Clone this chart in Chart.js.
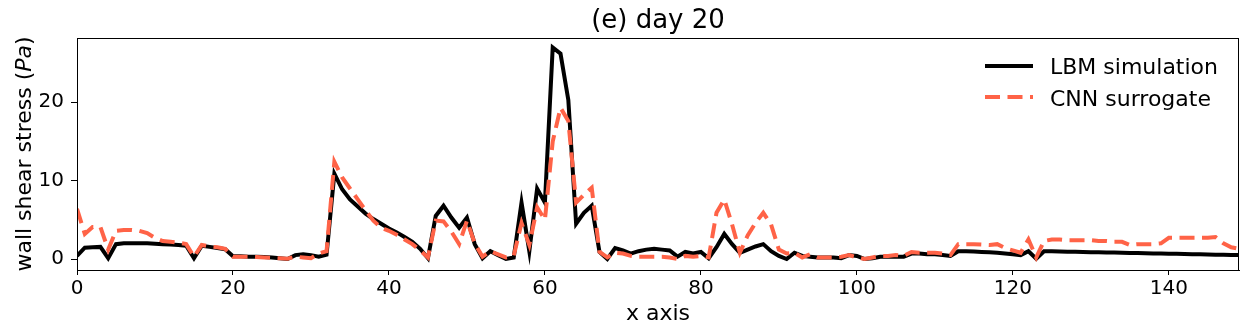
<!DOCTYPE html>
<html>
<head>
<meta charset="utf-8">
<script src="https://cdn.jsdelivr.net/npm/chart.js@4/dist/chart.umd.min.js"></script>
<style>
  html, body { margin: 0; padding: 0; background: #fff; }
  #wrap { width: 1249px; height: 334px; }
</style>
</head>
<body>
<div id="wrap"><canvas id="chart" width="1249" height="334"></canvas></div>
<script>
// wall shear stress along x, LBM reference
const lbm = [
  0.4, 1.45, 1.5, 1.55, 0.1, 1.9, 2.0, 2.0, 2.0, 2.0,
  1.95, 1.9, 1.85, 1.8, 1.7, 0.1, 1.7, 1.55, 1.4, 1.25,
  0.35, 0.35, 0.3, 0.3, 0.25, 0.2, 0.1, 0.0, 0.5, 0.6,
  0.5, 0.3, 0.55, 10.9, 8.9, 7.6, 6.7, 5.8, 5.1, 4.5,
  3.9, 3.4, 2.8, 2.2, 1.3, 0.1, 5.5, 6.8, 5.3, 4.0,
  5.3, 1.9, 0.1, 1.0, 0.5, 0.0, 0.2, 7.2, 1.0, 9.0,
  7.2, 27.0, 26.2, 20.3, 4.5, 5.9, 6.8, 0.9, 0.0, 1.4,
  1.1, 0.7, 1.0, 1.2, 1.3, 1.2, 1.1, 0.3, 0.9, 0.7,
  0.9, 0.1, 1.5, 3.2, 1.9, 0.8, 1.2, 1.6, 1.9, 1.0,
  0.4, 0.0, 0.8, 0.4, 0.3, 0.2, 0.2, 0.2, 0.1, 0.5,
  0.4, 0.0, 0.1, 0.3, 0.3, 0.3, 0.3, 0.7, 0.7, 0.6,
  0.6, 0.5, 0.4, 1.0, 1.0, 0.95, 0.9, 0.85, 0.8, 0.7,
  0.6, 0.5, 1.0, 0.05, 1.0, 0.98, 0.96, 0.94, 0.92, 0.9,
  0.88, 0.86, 0.84, 0.82, 0.8, 0.78, 0.76, 0.74, 0.72, 0.7,
  0.68, 0.66, 0.64, 0.62, 0.6, 0.58, 0.56, 0.54, 0.52, 0.5
];
// CNN prediction
const cnn = [
  6.4, 3.2, 4.1, 4.1, 1.2, 3.6, 3.7, 3.7, 3.6, 3.3,
  2.7, 2.3, 2.2, 2.1, 1.9, 0.3, 1.8, 1.6, 1.5, 1.3,
  0.3, 0.3, 0.3, 0.25, 0.2, 0.15, 0.1, 0.05, 0.3, 0.2,
  0.1, 0.7, 1.0, 12.4, 10.4, 9.0, 7.6, 6.2, 4.9, 4.0,
  3.6, 3.1, 2.5, 1.9, 1.1, 0.2, 4.9, 4.8, 3.5, 1.9,
  4.9, 2.0, 0.3, 1.0, 0.6, 0.2, 0.4, 4.6, 1.8, 6.6,
  5.0, 15.0, 19.3, 17.6, 7.2, 8.2, 9.1, 0.9, 0.2, 0.8,
  0.7, 0.4, 0.3, 0.3, 0.3, 0.3, 0.2, 0.0, 0.4, 0.3,
  0.4, 0.2, 5.9, 7.6, 4.4, 0.8, 3.0, 4.6, 5.9, 4.4,
  1.2, 0.7, 0.8, 0.2, 0.6, 0.2, 0.2, 0.2, 0.3, 0.5,
  0.2, 0.0, 0.2, 0.4, 0.4, 0.5, 0.4, 0.9, 0.8, 0.8,
  0.8, 0.7, 0.5, 1.9, 1.9, 1.9, 1.85, 1.8, 1.9, 1.4,
  1.1, 0.8, 2.5, 0.2, 2.3, 2.5, 2.5, 2.4, 2.4, 2.4,
  2.4, 2.3, 2.3, 2.2, 2.2, 1.8, 1.9, 1.9, 1.9, 2.0,
  2.7, 2.7, 2.7, 2.7, 2.7, 2.7, 2.8, 2.0, 1.5, 1.3
];
const xTicks = [0, 20, 40, 60, 80, 100, 120, 140];
const yTicks = [0, 10, 20];
const seriesNames = ['LBM simulation', 'CNN surrogate'];

const FONT = 'DejaVu Sans';
const RED = '#ff6347';
const DASH = [15, 7.5];

const toPoints = (arr) => arr.map((v, i) => ({ x: i, y: v }));

// title, axis labels, frame and legend drawn on the canvas
const decorations = {
  id: 'decorations',
  afterDraw(chart) {
    const { ctx, chartArea: a } = chart;
    const cx = (a.left + a.right) / 2;
    ctx.save();
    ctx.strokeStyle = '#000';
    ctx.lineWidth = 1;
    ctx.strokeRect(a.left + 0.5, a.top + 0.5, a.right - a.left - 1, a.bottom - a.top);

    ctx.fillStyle = '#000';
    ctx.textAlign = 'center';
    ctx.textBaseline = 'middle';
    ctx.font = `26px "${FONT}"`;
    ctx.fillText('(e) day 20', cx, 21);

    ctx.textBaseline = 'alphabetic';
    ctx.font = `22px "${FONT}"`;
    ctx.fillText('x axis', cx, 320);

    // y label with italic unit
    const parts = [
      ['wall shear stress (', `22px "${FONT}"`],
      ['Pa', `italic 22px "${FONT}"`],
      [')', `22px "${FONT}"`]
    ];
    let total = 0;
    parts.forEach(([t, f]) => { ctx.font = f; total += ctx.measureText(t).width; });
    ctx.translate(31, (a.top + a.bottom) / 2);
    ctx.rotate(-Math.PI / 2);
    ctx.textAlign = 'left';
    let px = -total / 2;
    parts.forEach(([t, f]) => { ctx.font = f; ctx.fillText(t, px, 0); px += ctx.measureText(t).width; });
    ctx.restore();

    // legend
    ctx.save();
    ctx.lineWidth = 4;
    ctx.strokeStyle = '#000';
    ctx.beginPath(); ctx.moveTo(985, 66); ctx.lineTo(1033, 66); ctx.stroke();
    ctx.strokeStyle = RED;
    ctx.setLineDash(DASH);
    ctx.beginPath(); ctx.moveTo(985, 97); ctx.lineTo(1033, 97); ctx.stroke();
    ctx.setLineDash([]);
    ctx.fillStyle = '#000';
    ctx.font = `22px "${FONT}"`;
    ctx.textBaseline = 'alphabetic';
    ctx.fillText(seriesNames[0], 1050, 74);
    ctx.fillText(seriesNames[1], 1050, 106);
    ctx.restore();
  }
};

new Chart(document.getElementById('chart'), {
  type: 'line',
  data: {
    datasets: [
      {
        label: seriesNames[0],
        data: toPoints(lbm),
        borderColor: '#000',
        borderWidth: 4,
        pointRadius: 0,
        tension: 0,
        order: 2
      },
      {
        label: seriesNames[1],
        data: toPoints(cnn),
        borderColor: RED,
        borderWidth: 4,
        borderDash: DASH,
        pointRadius: 0,
        tension: 0,
        order: 1
      }
    ]
  },
  options: {
    responsive: false,
    animation: false,
    layout: { padding: { left: 0, top: 38, right: 10, bottom: 0 } },
    plugins: { legend: { display: false }, tooltip: { enabled: false } },
    scales: {
      x: {
        type: 'linear',
        min: 0,
        max: 149,
        afterBuildTicks: (s) => { s.ticks = xTicks.map(v => ({ value: v })); },
        afterFit: (s) => { s.height = 64; },
        grid: { drawOnChartArea: false, drawTicks: true, tickLength: 5, color: '#000' },
        border: { display: true, color: '#000' },
        ticks: { color: '#000', font: { family: FONT, size: 20 }, padding: 2, maxRotation: 0 }
      },
      y: {
        type: 'linear',
        min: -1.4,
        max: 28.2,
        afterBuildTicks: (s) => { s.ticks = yTicks.map(v => ({ value: v })); },
        afterFit: (s) => { s.width = 77; },
        grid: { drawOnChartArea: false, drawTicks: true, tickLength: 6, color: '#000' },
        border: { display: true, color: '#000' },
        ticks: { color: '#000', font: { family: FONT, size: 20 }, padding: 7 }
      }
    }
  },
  plugins: [decorations]
});
</script>
</body>
</html>
